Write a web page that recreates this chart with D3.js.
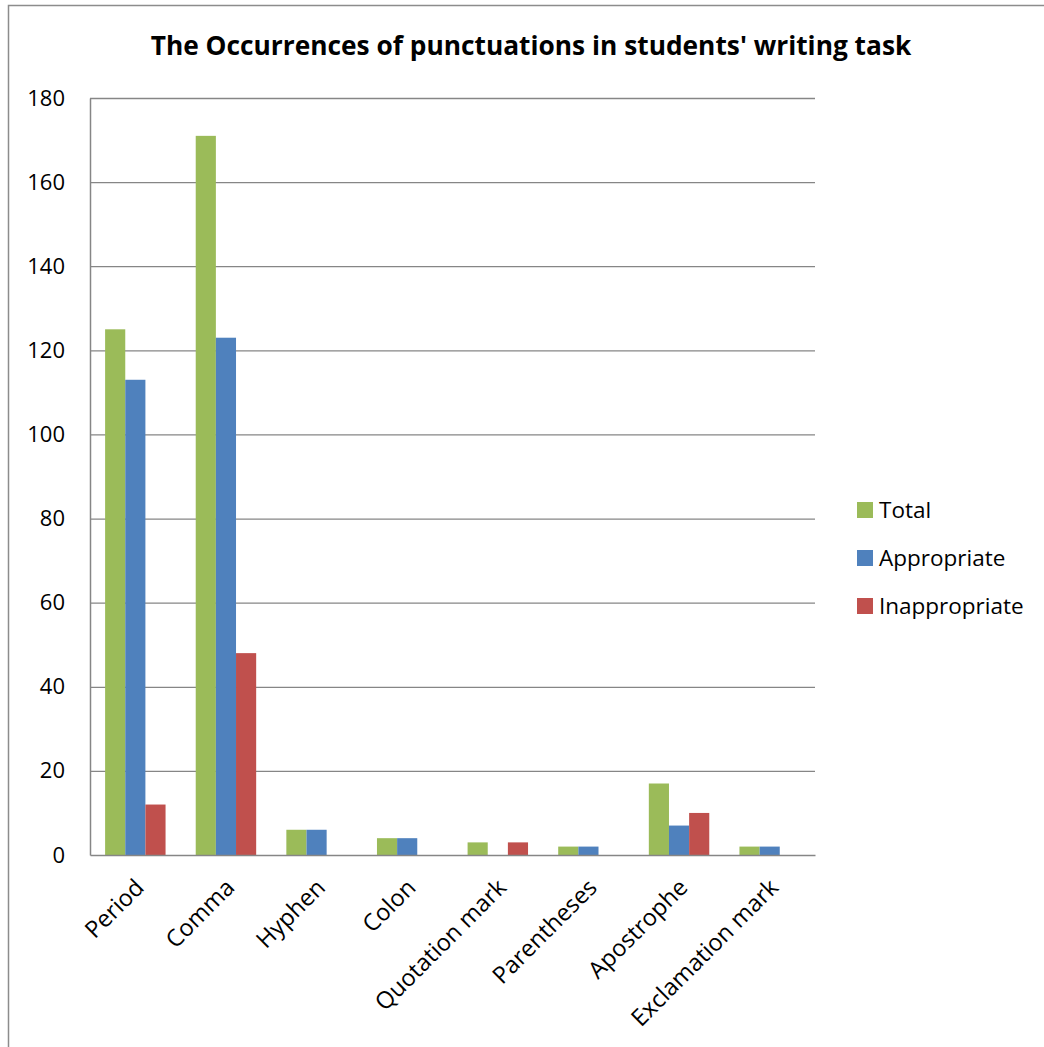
<!DOCTYPE html>
<html>
<head>
<meta charset="utf-8">
<script src="https://cdn.jsdelivr.net/npm/d3@7"></script>
<style>
  body { margin: 0; background: #fff; }
  svg { display: block; font-family: "Open Sans", Lato, sans-serif; }
</style>
</head>
<body>
<script>
// chart data
var categories = ["Period", "Comma", "Hyphen", "Colon", "Quotation mark", "Parentheses", "Apostrophe", "Exclamation mark"];
var seriesNames = ["Total", "Appropriate", "Inappropriate"];
var totalValues = [125, 171, 6, 4, 3, 2, 17, 2];
var appropriateValues = [113, 123, 6, 4, 0, 2, 7, 2];
var inappropriateValues = [12, 48, 0, 0, 3, 0, 10, 0];
var yTicks = [0, 20, 40, 60, 80, 100, 120, 140, 160, 180];
var colors = ["#9BBB59", "#4F81BD", "#C0504D"];

var seriesValues = [totalValues, appropriateValues, inappropriateValues];

var width = 1044, height = 1047;
var plotLeft = 90, plotRight = 815, plotTop = 98, plotBottom = 855;

var svg = d3.select("body").append("svg")
    .attr("width", width)
    .attr("height", height);

// outer frame
svg.append("rect")
    .attr("x", 8.5).attr("y", 5.5)
    .attr("width", width + 20).attr("height", height + 20)
    .attr("fill", "none")
    .attr("stroke", "#8c8c8c")
    .attr("stroke-width", 1.5);

svg.append("text")
    .attr("x", 531).attr("y", 55)
    .attr("text-anchor", "middle")
    .attr("font-weight", "bold")
    .attr("font-size", "26.3px")
    .attr("fill", "#000")
    .text("The Occurrences of punctuations in students' writing task");

var y = d3.scaleLinear().domain([0, 180]).range([plotBottom, plotTop]);
var x0 = d3.scaleBand().domain(categories).range([plotLeft, plotRight]).paddingInner(0.333).paddingOuter(0.1667);
var x1 = d3.scaleBand().domain(seriesNames).range([0, x0.bandwidth()]);

// gridlines
svg.append("g")
    .selectAll("line")
    .data(yTicks.filter(function (d) { return d > 0; }))
    .join("line")
    .attr("x1", plotLeft).attr("x2", plotRight)
    .attr("y1", function (d) { return y(d) + 0.5; })
    .attr("y2", function (d) { return y(d) + 0.5; })
    .attr("stroke", "#868686")
    .attr("stroke-width", 1.3);

// y axis
var yAxis = svg.append("g")
    .attr("transform", "translate(" + plotLeft + ",0)")
    .call(d3.axisLeft(y).tickValues(yTicks).tickSize(0).tickPadding(25));
yAxis.select(".domain").attr("stroke", "#868686").attr("stroke-width", 1.5);
yAxis.selectAll("text")
    .attr("font-size", "22px")
    .attr("font-family", "\"Open Sans\", Lato, sans-serif")
    .attr("fill", "#000");

// bars
var groups = svg.append("g")
    .selectAll("g")
    .data(categories)
    .join("g")
    .attr("transform", function (d) { return "translate(" + x0(d) + ",0)"; });

groups.selectAll("rect")
    .data(function (d, i) {
        return seriesNames.map(function (s, k) { return { s: s, k: k, v: seriesValues[k][i] }; });
    })
    .join("rect")
    .attr("x", function (d) { return x1(d.s); })
    .attr("width", x1.bandwidth())
    .attr("y", function (d) { return y(d.v); })
    .attr("height", function (d) { return plotBottom - y(d.v); })
    .attr("fill", function (d) { return colors[d.k]; });

// x axis
var xAxis = svg.append("g")
    .attr("transform", "translate(0," + plotBottom + ")")
    .call(d3.axisBottom(x0).tickSize(0).tickSizeOuter(0).tickPadding(0));
xAxis.select(".domain").attr("stroke", "#868686").attr("stroke-width", 1.5);
xAxis.selectAll("text")
    .attr("font-size", "23.5px")
    .attr("font-family", "\"Open Sans\", Lato, sans-serif")
    .attr("fill", "#000")
    .attr("text-anchor", "end")
    .attr("dy", null)
    .attr("transform", "translate(10,34) rotate(-45)");

// legend
var legend = svg.append("g")
    .selectAll("g")
    .data(seriesNames)
    .join("g")
    .attr("transform", function (d, i) { return "translate(857," + (510 + i * 48) + ")"; });
legend.append("rect")
    .attr("x", 0).attr("y", -8)
    .attr("width", 16).attr("height", 16)
    .attr("fill", function (d, i) { return colors[i]; });
legend.append("text")
    .attr("x", 22).attr("y", 8)
    .attr("font-size", "22.5px")
    .attr("fill", "#000")
    .text(function (d) { return d; });
</script>
</body>
</html>
